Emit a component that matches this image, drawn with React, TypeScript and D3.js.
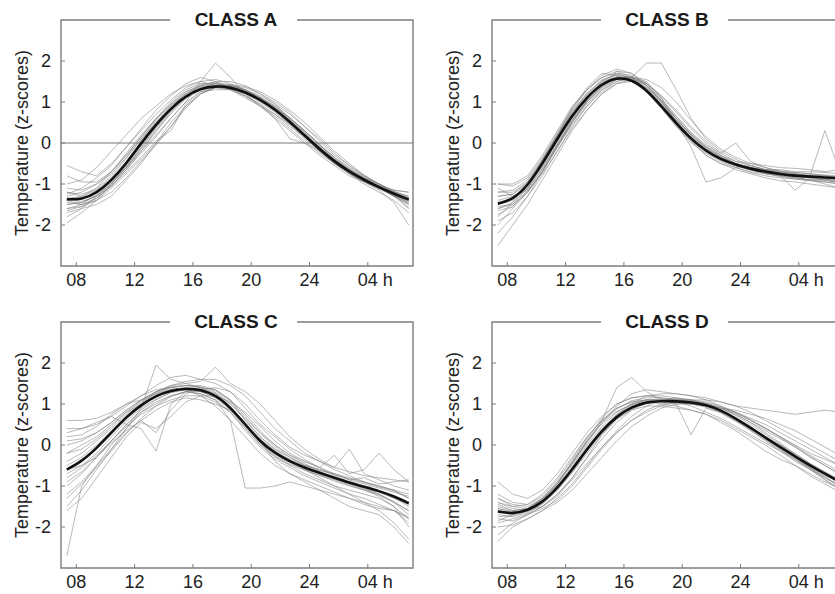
import React from 'react'
import * as d3 from 'd3'

// hour of each sample (07:20 .. 06:50 next day)
const HOURS = d3.range(24).map(i => 7.35 + i * 1.02)

const X_TICKS = [8, 12, 16, 20, 24, 28]
const X_LABELS = ['08', '12', '16', '20', '24', '04']
const Y_TICKS = [-2, -1, 0, 1, 2]

const CLASSES = ['CLASS A', 'CLASS B', 'CLASS C', 'CLASS D']

const MEAN_A = [-1.37, -1.38, -1.22, -0.92, -0.5, 0.0, 0.45, 0.85, 1.15, 1.33, 1.39, 1.36, 1.24, 1.06, 0.82, 0.52, 0.18, -0.15, -0.45, -0.7, -0.9, -1.08, -1.24, -1.38]
const MEAN_B = [-1.48, -1.38, -1.05, -0.5, 0.1, 0.68, 1.12, 1.45, 1.6, 1.55, 1.3, 0.9, 0.48, 0.1, -0.2, -0.4, -0.53, -0.63, -0.7, -0.76, -0.8, -0.82, -0.84, -0.86]
const MEAN_C = [-0.6, -0.4, -0.08, 0.3, 0.68, 0.98, 1.2, 1.33, 1.38, 1.35, 1.22, 0.92, 0.5, 0.08, -0.2, -0.4, -0.55, -0.68, -0.8, -0.92, -1.02, -1.12, -1.25, -1.42]
const MEAN_D = [-1.62, -1.68, -1.6, -1.4, -1.05, -0.6, -0.1, 0.35, 0.7, 0.93, 1.05, 1.07, 1.07, 1.04, 0.98, 0.85, 0.65, 0.42, 0.18, -0.05, -0.28, -0.5, -0.7, -0.9]

const DAYS_A = [
  [-1.0, -0.9, -0.6, -0.2, 0.2, 0.6, 0.9, 1.2, 1.4, 1.5, 1.4, 1.3, 1.1, 0.9, 0.6, 0.3, 0.0, -0.3, -0.55, -0.8, -0.95, -1.1, -1.2, -1.3],
  [-1.7, -1.6, -1.5, -1.3, -0.9, -0.5, 0.0, 0.5, 0.9, 1.2, 1.35, 1.4, 1.35, 1.2, 1.0, 0.75, 0.4, 0.05, -0.3, -0.55, -0.8, -1.0, -1.2, -1.5],
  [-1.2, -1.3, -1.1, -0.7, -0.3, 0.15, 0.6, 1.0, 1.3, 1.45, 1.45, 1.35, 1.2, 1.0, 0.75, 0.45, 0.1, -0.2, -0.5, -0.75, -0.95, -1.1, -1.3, -1.45],
  [-1.5, -1.45, -1.3, -1.0, -0.6, -0.2, 0.2, 0.6, 1.0, 1.5, 1.95, 1.6, 1.2, 0.9, 0.7, 0.45, 0.2, -0.1, -0.4, -0.65, -0.85, -1.0, -1.15, -1.2],
  [-1.95, -1.7, -1.4, -1.0, -0.55, -0.05, 0.4, 0.8, 1.1, 1.3, 1.4, 1.4, 1.3, 1.1, 0.9, 0.6, 0.3, -0.05, -0.4, -0.65, -0.9, -1.1, -1.3, -1.6],
  [-1.4, -1.5, -1.4, -1.1, -0.75, -0.4, 0.0, 0.4, 0.9, 1.2, 1.35, 1.3, 1.15, 0.95, 0.6, 0.1, 0.0, -0.2, -0.45, -0.7, -0.92, -1.1, -1.3, -1.5],
  [-0.55, -0.7, -0.8, -0.5, -0.1, 0.3, 0.7, 1.05, 1.35, 1.5, 1.55, 1.45, 1.3, 1.1, 0.85, 0.55, 0.2, -0.1, -0.4, -0.65, -0.85, -1.05, -1.2, -1.35],
  [-1.6, -1.5, -1.25, -0.95, -0.6, -0.15, 0.3, 0.75, 1.1, 1.35, 1.45, 1.4, 1.3, 1.15, 0.95, 0.7, 0.4, 0.1, -0.25, -0.55, -0.8, -1.0, -1.2, -1.4],
  [-1.3, -1.2, -1.0, -0.75, -0.35, 0.1, 0.5, 0.85, 1.2, 1.4, 1.5, 1.5, 1.4, 1.2, 0.95, 0.6, 0.25, -0.1, -0.45, -0.75, -1.0, -1.2, -1.4, -1.7],
  [-1.8, -1.6, -1.3, -1.05, -0.7, -0.35, 0.05, 0.3, 0.95, 1.25, 1.3, 1.3, 1.15, 0.95, 0.7, 0.4, 0.15, -0.2, -0.5, -0.75, -0.95, -1.15, -1.45, -2.0],
  [-1.1, -1.15, -1.0, -0.7, -0.25, 0.2, 0.6, 0.95, 1.25, 1.4, 1.45, 1.38, 1.25, 1.05, 0.8, 0.5, 0.2, -0.15, -0.45, -0.7, -0.88, -1.05, -1.15, -1.2],
  [-1.45, -1.5, -1.35, -1.05, -0.65, -0.25, 0.15, 0.6, 1.0, 1.25, 1.35, 1.32, 1.2, 1.05, 0.85, 0.6, 0.3, -0.05, -0.35, -0.6, -0.82, -1.0, -1.18, -1.32],
  [-1.25, -1.1, -0.85, -0.55, -0.1, 0.35, 0.8, 1.15, 1.45, 1.6, 1.5, 1.35, 1.15, 0.9, 0.65, 0.35, 0.05, -0.25, -0.5, -0.72, -0.9, -1.05, -1.25, -1.45],
  [-1.6, -1.55, -1.4, -1.2, -0.85, -0.45, -0.05, 0.4, 0.85, 1.2, 1.38, 1.42, 1.38, 1.25, 1.05, 0.8, 0.5, 0.15, -0.2, -0.5, -0.78, -1.0, -1.2, -1.35],
  [-1.35, -1.3, -1.15, -0.85, -0.45, 0.05, 0.5, 0.9, 1.2, 1.38, 1.42, 1.38, 1.26, 1.08, 0.85, 0.55, 0.22, -0.12, -0.42, -0.68, -0.9, -1.08, -1.25, -1.4],
  [-1.5, -1.45, -1.28, -0.98, -0.58, -0.1, 0.38, 0.8, 1.12, 1.3, 1.38, 1.36, 1.25, 1.1, 0.88, 0.6, 0.28, -0.05, -0.38, -0.65, -0.88, -1.05, -1.22, -1.35],
  [-1.2, -1.25, -1.12, -0.8, -0.38, 0.1, 0.55, 0.92, 1.2, 1.36, 1.4, 1.35, 1.22, 1.02, 0.78, 0.48, 0.14, -0.2, -0.5, -0.74, -0.94, -1.12, -1.28, -1.42],
  [-1.65, -1.55, -1.35, -1.05, -0.65, -0.2, 0.28, 0.72, 1.08, 1.3, 1.4, 1.4, 1.3, 1.12, 0.9, 0.62, 0.3, -0.02, -0.35, -0.62, -0.85, -1.02, -1.18, -1.3],
  [-0.8, -0.95, -0.95, -0.7, -0.3, 0.15, 0.58, 0.95, 1.25, 1.42, 1.48, 1.42, 1.28, 1.08, 0.82, 0.5, 0.15, -0.18, -0.48, -0.72, -0.92, -1.1, -1.28, -1.5],
  [-1.4, -1.42, -1.3, -1.0, -0.6, -0.12, 0.35, 0.78, 1.12, 1.32, 1.4, 1.38, 1.28, 1.1, 0.86, 0.56, 0.24, -0.1, -0.42, -0.68, -0.9, -1.08, -1.26, -1.58],
]

const DAYS_B = [
  [-1.0, -1.0, -0.8, -0.3, 0.3, 0.9, 1.3, 1.6, 1.7, 1.55, 1.25, 0.85, 0.45, 0.1, -0.15, -0.35, -0.5, -0.6, -0.65, -0.7, -0.72, -0.75, -0.78, -0.8],
  [-2.5, -2.0, -1.5, -0.9, -0.3, 0.3, 0.8, 1.2, 1.45, 1.5, 1.35, 1.0, 0.6, 0.2, -0.1, -0.35, -0.5, -0.6, -0.7, -0.8, -0.85, -0.9, -1.0, -1.1],
  [-1.2, -1.2, -0.95, -0.45, 0.15, 0.75, 1.2, 1.55, 1.65, 1.6, 1.95, 1.95, 1.3, 0.6, 0.1, -0.2, -0.4, -0.55, -0.65, -0.7, -0.75, -0.8, -0.8, -0.85],
  [-2.0, -1.6, -1.2, -0.7, -0.1, 0.5, 0.95, 1.3, 1.5, 1.6, 1.5, 1.1, 0.5, -0.1, -0.95, -0.85, -0.6, -0.55, -0.65, -0.75, -0.85, -0.9, -0.95, -1.0],
  [-1.6, -1.5, -1.1, -0.55, 0.05, 0.6, 1.05, 1.4, 1.6, 1.6, 1.4, 1.05, 0.65, 0.25, -0.05, -0.25, 0.0, -0.45, -0.6, -0.7, -0.75, -0.8, 0.3, -0.7],
  [-1.3, -1.25, -1.0, -0.6, -0.05, 0.5, 1.0, 1.35, 1.75, 1.7, 1.45, 1.05, 0.6, 0.2, -0.15, -0.4, -0.55, -0.65, -0.75, -0.8, -1.15, -0.85, -0.9, -0.95],
  [-1.8, -1.45, -1.0, -0.45, 0.2, 0.8, 1.3, 1.65, 1.8, 1.7, 1.4, 1.0, 0.55, 0.15, -0.15, -0.35, -0.5, -0.6, -0.65, -0.65, -0.7, -0.7, -0.72, -0.75],
  [-1.1, -1.3, -1.15, -0.75, -0.2, 0.35, 0.8, 1.2, 1.45, 1.55, 1.45, 1.15, 0.75, 0.35, 0.0, -0.3, -0.5, -0.65, -0.75, -0.82, -0.88, -0.92, -0.95, -1.0],
  [-2.2, -1.8, -1.3, -0.7, -0.05, 0.55, 1.0, 1.35, 1.55, 1.5, 1.3, 0.95, 0.55, 0.2, -0.1, -0.3, -0.45, -0.55, -0.65, -0.72, -0.78, -0.82, -0.85, -0.9],
  [-1.4, -1.3, -1.1, -0.65, -0.1, 0.5, 1.05, 1.5, 1.7, 1.65, 1.4, 1.0, 0.55, 0.05, -0.3, -0.5, -0.6, -0.7, -0.75, -0.8, -0.85, -0.9, -0.88, -0.92],
  [-1.65, -1.55, -1.2, -0.7, -0.1, 0.45, 0.9, 1.25, 1.5, 1.6, 1.55, 1.35, 1.0, 0.55, 0.15, -0.15, -0.35, -0.5, -0.6, -0.68, -0.72, -0.75, -0.8, -0.85],
  [-1.0, -1.05, -0.85, -0.35, 0.25, 0.85, 1.3, 1.6, 1.75, 1.6, 1.3, 0.85, 0.4, 0.0, -0.25, -0.45, -0.6, -0.72, -0.8, -0.85, -0.88, -0.9, -0.92, -0.95],
  [-1.9, -1.7, -1.3, -0.8, -0.2, 0.4, 0.9, 1.3, 1.55, 1.6, 1.45, 1.15, 0.8, 0.4, 0.05, -0.25, -0.45, -0.5, -0.55, -0.6, -0.62, -0.65, -0.7, -0.65],
  [-1.5, -1.4, -1.0, -0.4, 0.2, 0.85, 1.35, 1.7, 1.65, 1.5, 1.25, 0.9, 0.45, 0.05, -0.3, -0.5, -0.65, -0.75, -0.85, -0.92, -0.95, -1.0, -1.05, -1.1],
  [-1.45, -1.35, -1.02, -0.48, 0.12, 0.7, 1.15, 1.47, 1.6, 1.55, 1.32, 0.92, 0.5, 0.12, -0.18, -0.4, -0.52, -0.62, -0.7, -0.76, -0.8, -0.83, -0.85, -0.88],
  [-1.6, -1.45, -1.1, -0.55, 0.05, 0.62, 1.08, 1.42, 1.62, 1.58, 1.35, 0.95, 0.52, 0.12, -0.2, -0.42, -0.56, -0.66, -0.72, -0.78, -0.82, -0.85, -0.88, -0.95],
  [-1.3, -1.25, -0.95, -0.42, 0.18, 0.75, 1.18, 1.5, 1.62, 1.52, 1.25, 0.85, 0.42, 0.05, -0.22, -0.42, -0.55, -0.65, -0.72, -0.78, -0.82, -0.8, -0.82, -0.84],
  [-1.75, -1.55, -1.15, -0.62, 0.0, 0.58, 1.02, 1.38, 1.58, 1.58, 1.4, 1.02, 0.6, 0.2, -0.12, -0.36, -0.5, -0.6, -0.68, -0.74, -0.78, -0.8, -0.84, -0.88],
  [-1.2, -1.15, -0.9, -0.4, 0.2, 0.78, 1.22, 1.52, 1.68, 1.6, 1.32, 0.9, 0.45, 0.08, -0.2, -0.4, -0.55, -0.62, -0.68, -0.72, -0.76, -0.78, -0.8, -0.82],
  [-1.55, -1.5, -1.2, -0.68, -0.05, 0.55, 1.0, 1.38, 1.58, 1.62, 1.45, 1.1, 0.66, 0.25, -0.08, -0.32, -0.5, -0.62, -0.7, -0.75, -0.8, -0.84, -0.9, -0.98],
]

const DAYS_C = [
  [0.6, 0.6, 0.65, 0.8, 1.0, 1.1, 1.3, 1.45, 1.55, 1.6, 1.6, 1.45, 1.2, 0.8, 0.4, 0.1, -0.2, -0.4, -0.6, -0.75, -0.9, -1.0, -1.1, -1.2],
  [-2.7, -1.0, -0.5, 0.0, 0.4, 0.8, 1.0, 1.2, 1.3, 1.25, 1.1, 0.8, 0.4, 0.0, -0.3, -0.5, -0.7, -0.85, -1.0, -1.1, -1.2, -1.3, -1.5, -1.8],
  [0.3, 0.4, 0.5, 0.7, 0.5, 0.4, -0.15, 1.0, 1.3, 1.4, 1.35, 1.1, 0.6, 0.2, -0.1, -0.3, -0.5, -0.6, -0.7, -0.8, -0.9, -1.0, -1.1, -1.3],
  [-1.5, -1.1, -0.6, -0.1, 0.4, 0.9, 1.95, 1.6, 1.5, 1.4, 1.2, 0.9, 0.5, 0.1, -0.2, -0.4, -0.6, -0.8, -1.0, -1.2, -1.4, -1.6, -1.9, -2.3],
  [-0.2, 0.0, 0.2, 0.5, 0.8, 1.0, 1.3, 1.45, 1.5, 1.55, 1.9, 1.5, 1.3, 1.0, 0.6, 0.2, -0.1, -0.35, -0.55, -0.1, -0.7, -0.85, -1.0, -1.1],
  [-1.0, -0.7, -0.3, 0.1, 0.5, 0.8, 1.05, 1.2, 1.3, 1.25, 1.1, 0.6, -1.05, -1.05, -1.0, -0.9, -1.0, -1.1, -1.2, -1.3, -1.4, -1.5, -1.6, -1.9],
  [0.0, 0.1, 0.3, 0.55, 0.85, 1.1, 1.25, 1.35, 1.4, 1.35, 1.25, 1.0, 0.65, 0.3, 0.0, -0.25, -0.4, -0.55, -0.25, -0.7, -0.6, -0.2, -0.6, -0.9],
  [-0.8, -0.55, -0.25, 0.1, 0.45, 0.75, 0.95, 1.1, 1.2, 1.2, 1.05, 0.8, 0.35, -0.05, -0.35, -0.55, -0.75, -0.9, -1.05, -1.2, -1.3, -1.45, -1.6, -1.8],
  [0.4, 0.4, 0.55, 0.7, 0.95, 1.2, 1.45, 1.65, 1.7, 1.6, 1.5, 1.3, 1.0, 0.6, 0.25, -0.05, -0.25, -0.4, -0.55, -0.65, -0.75, -0.8, -0.85, -0.9],
  [-1.2, -0.9, -0.5, -0.1, 0.3, 0.6, 0.85, 1.05, 1.15, 1.1, 1.0, 0.85, 0.5, 0.1, -0.4, -0.7, -0.9, -1.1, -1.3, -1.5, -1.6, -1.7, -2.0, -2.4],
  [-0.4, -0.2, 0.1, 0.4, 0.75, 1.05, 1.25, 1.4, 1.45, 1.45, 1.35, 1.1, 0.75, 0.35, 0.0, -0.25, -0.45, -0.65, -0.8, -0.95, -1.05, -1.15, -1.3, -1.45],
  [-0.6, -0.5, -0.3, 0.05, 0.35, 0.6, 0.3, 0.85, 1.25, 1.35, 1.4, 1.3, 0.9, 0.5, 0.2, -0.1, -0.35, -0.55, -0.75, -0.9, -1.05, -1.2, -1.4, -1.6],
  [0.2, 0.25, 0.45, 0.75, 1.0, 1.2, 1.35, 1.4, 1.35, 1.2, 0.95, 0.6, 0.2, -0.2, -0.5, -0.7, -0.85, -1.0, -1.15, -1.3, -1.45, -1.55, -1.6, -1.75],
  [-1.6, -1.3, -0.8, -0.3, 0.2, 0.55, 0.4, 0.7, 1.05, 1.2, 1.2, 1.05, 0.8, 0.45, 0.1, -0.2, -0.4, -0.55, -0.7, -0.85, -0.8, -0.95, -0.9, -0.85],
  [-0.5, -0.3, 0.0, 0.35, 0.72, 1.0, 1.22, 1.35, 1.4, 1.38, 1.25, 0.95, 0.52, 0.1, -0.2, -0.42, -0.58, -0.72, -0.84, -0.95, -1.05, -1.15, -1.28, -1.5],
  [-0.9, -0.65, -0.3, 0.1, 0.5, 0.85, 1.1, 1.28, 1.35, 1.3, 1.15, 0.85, 0.42, 0.02, -0.28, -0.48, -0.62, -0.75, -0.88, -1.0, -1.1, -1.22, -1.4, -1.7],
  [-0.2, -0.1, 0.15, 0.45, 0.8, 1.08, 1.28, 1.4, 1.45, 1.42, 1.32, 1.08, 0.7, 0.28, -0.05, -0.3, -0.48, -0.6, -0.72, -0.85, -0.95, -1.05, -1.15, -1.25],
  [-1.3, -0.95, -0.55, -0.15, 0.28, 0.65, 0.95, 1.18, 1.3, 1.3, 1.18, 0.92, 0.55, 0.15, -0.15, -0.38, -0.55, -0.7, -0.82, -0.95, -1.08, -1.2, -1.38, -1.6],
  [0.1, 0.15, 0.3, 0.55, 0.85, 1.1, 1.3, 1.42, 1.45, 1.4, 1.28, 1.02, 0.62, 0.2, -0.12, -0.35, -0.5, -0.62, -0.72, -0.82, -0.92, -1.02, -1.12, -1.3],
  [-0.7, -0.5, -0.2, 0.2, 0.58, 0.9, 1.12, 1.28, 1.35, 1.32, 1.2, 0.9, 0.48, 0.05, -0.25, -0.45, -0.6, -0.74, -0.85, -0.98, -1.1, -1.25, -1.5, -2.0],
]

const DAYS_D = [
  [-0.9, -1.2, -1.3, -1.1, -0.7, -0.2, 0.3, 0.7, 1.0, 1.15, 1.2, 1.15, 1.1, 1.05, 1.0, 0.9, 0.8, 0.65, 0.5, 0.3, 0.1, -0.1, -0.3, -0.5],
  [-2.35, -2.0, -1.8, -1.6, -1.4, -1.1, -0.7, -0.3, 0.1, 0.45, 0.7, 0.9, 1.0, 1.05, 1.0, 0.9, 0.75, 0.55, 0.3, 0.05, -0.25, -0.55, -0.85, -1.1],
  [-1.4, -1.5, -1.45, -1.2, -0.8, -0.3, 0.2, 0.6, 1.4, 1.65, 1.3, 1.1, 1.0, 0.25, 0.9, 0.8, 0.6, 0.4, 0.2, 0.0, -0.2, -0.45, -0.7, -0.9],
  [-1.8, -1.85, -1.7, -1.5, -1.2, -0.85, -0.45, -0.05, 0.3, 0.6, 0.8, 0.95, 1.05, 1.1, 1.1, 1.05, 0.95, 0.9, 0.85, 0.8, 0.75, 0.8, 0.85, 0.8],
  [-1.3, -1.5, -1.55, -1.35, -0.95, -0.4, 0.15, 0.65, 1.0, 1.15, 1.2, 1.2, 1.15, 1.1, 1.0, 0.85, 0.65, 0.4, 0.15, -0.1, -0.35, -0.6, -0.85, -1.05],
  [-2.2, -1.9, -1.7, -1.55, -1.35, -1.0, -0.55, -0.1, 0.3, 0.6, 0.85, 1.0, 1.05, 1.0, 0.95, 0.8, 0.6, 0.35, 0.1, -0.15, -0.4, -0.6, -0.8, -1.0],
  [-1.5, -1.6, -1.55, -1.3, -0.9, -0.45, 0.05, 0.55, 0.95, 1.25, 1.35, 1.3, 1.25, 1.2, 1.1, 0.95, 0.8, 0.6, 0.4, 0.2, 0.0, -0.2, -0.35, -0.5],
  [-1.7, -1.75, -1.65, -1.45, -1.1, -0.65, -0.15, 0.3, 0.65, 0.85, 0.95, 0.95, 0.9, 0.85, 0.75, 0.6, 0.4, 0.2, 0.0, -0.25, -0.5, -0.75, -0.95, -1.15],
  [-1.2, -1.4, -1.45, -1.25, -0.85, -0.35, 0.2, 0.6, 0.9, 1.05, 1.1, 1.1, 1.05, 1.0, 0.95, 0.9, 0.85, 0.75, 0.65, 0.5, 0.35, 0.15, -0.05, -0.25],
  [-2.0, -1.95, -1.8, -1.6, -1.3, -0.95, -0.5, -0.05, 0.35, 0.7, 0.95, 1.1, 1.15, 1.1, 1.0, 0.85, 0.65, 0.45, 0.2, -0.05, -0.3, -0.55, -0.75, -0.9],
  [-1.55, -1.65, -1.6, -1.4, -1.0, -0.5, 0.0, 0.45, 0.8, 1.0, 1.1, 1.1, 1.05, 0.95, 0.8, 0.65, 0.45, 0.25, 0.05, -0.15, -0.35, -0.55, -0.7, -0.85],
  [-1.85, -1.7, -1.55, -1.3, -1.0, -0.6, -0.1, 0.35, 0.75, 1.0, 1.2, 1.25, 1.25, 1.2, 1.15, 1.05, 0.95, 0.8, 0.6, 0.4, 0.2, 0.0, -0.2, -0.4],
  [-1.4, -1.55, -1.6, -1.5, -1.25, -0.8, -0.3, 0.25, 0.65, 0.95, 1.05, 1.0, 0.95, 0.85, 0.75, 0.55, 0.35, 0.1, -0.15, -0.35, -0.5, -0.7, -0.9, -1.05],
  [-1.65, -1.7, -1.6, -1.35, -0.95, -0.45, 0.1, 0.6, 0.9, 1.05, 1.1, 1.05, 1.0, 1.0, 0.95, 0.9, 0.75, 0.55, 0.35, 0.15, -0.05, -0.3, -0.5, -0.7],
  [-1.6, -1.68, -1.6, -1.38, -1.02, -0.55, -0.05, 0.4, 0.72, 0.95, 1.05, 1.08, 1.08, 1.05, 0.98, 0.85, 0.66, 0.44, 0.2, -0.05, -0.3, -0.52, -0.72, -0.92],
  [-1.75, -1.72, -1.62, -1.42, -1.1, -0.68, -0.2, 0.25, 0.62, 0.88, 1.02, 1.08, 1.1, 1.08, 1.02, 0.9, 0.72, 0.5, 0.26, 0.02, -0.22, -0.45, -0.65, -0.85],
  [-1.45, -1.6, -1.55, -1.32, -0.95, -0.45, 0.08, 0.52, 0.82, 1.0, 1.08, 1.06, 1.04, 1.0, 0.92, 0.78, 0.58, 0.36, 0.12, -0.12, -0.36, -0.58, -0.8, -1.0],
  [-1.9, -1.8, -1.68, -1.5, -1.2, -0.8, -0.32, 0.15, 0.55, 0.85, 1.02, 1.1, 1.12, 1.1, 1.05, 0.95, 0.8, 0.62, 0.42, 0.2, -0.02, -0.25, -0.45, -0.65],
  [-1.55, -1.62, -1.58, -1.4, -1.05, -0.58, -0.08, 0.38, 0.75, 0.98, 1.1, 1.12, 1.1, 1.06, 0.98, 0.84, 0.64, 0.42, 0.18, -0.08, -0.32, -0.56, -0.78, -0.98],
  [-1.3, -1.45, -1.5, -1.3, -0.92, -0.42, 0.1, 0.55, 0.88, 1.08, 1.15, 1.15, 1.12, 1.08, 1.02, 0.92, 0.78, 0.6, 0.4, 0.18, -0.05, -0.28, -0.5, -0.72],
]

const MEANS = [MEAN_A, MEAN_B, MEAN_C, MEAN_D]
const DAYS = [DAYS_A, DAYS_B, DAYS_C, DAYS_D]

const W = 835
const H = 594
const panelW = 352
const panelH = 246
const lefts = [61, 492]
const tops = [20, 322]
const frameColor = '#7d7d7d'
const font = '"Liberation Sans", Arial, Helvetica, sans-serif'

const Panel = ({ idx }: { idx: number }) => {
  const left = lefts[idx % 2]
  const top = tops[Math.floor(idx / 2)]
  const x = d3.scaleLinear().domain([6.95, 31.1]).range([left, left + panelW])
  const y = d3.scaleLinear().domain([-3, 3]).range([top + panelH, top])
  const grayLine = d3.line<number>().x((_, i) => x(HOURS[i])).y(d => y(d))
  const meanLine = d3.line<number>().x((_, i) => x(HOURS[i])).y(d => y(d)).curve(d3.curveBasis)
  const cx = left + panelW / 2
  const gapL = cx - 67
  const gapR = cx + 60
  const bottom = top + panelH
  const right = left + panelW

  return (
    <g>
      {DAYS[idx].map((d, i) => (
        <path key={i} d={grayLine(d) || ''} fill="none" stroke="#7f7f7f" strokeWidth={1} strokeOpacity={0.55} />
      ))}
      {idx === 0 && (
        <line x1={left} x2={right} y1={y(0)} y2={y(0)} stroke="#777" strokeWidth={1} />
      )}
      <path d={meanLine(MEANS[idx]) || ''} fill="none" stroke="#111" strokeWidth={2.6} />

      {/* frame with a gap for the title */}
      <path
        d={`M${gapL},${top}H${left}V${bottom}H${right}V${top}H${gapR}`}
        fill="none"
        stroke={frameColor}
        strokeWidth={1.4}
      />
      <text x={cx - 1} y={top + 6} textAnchor="middle" fontFamily={font} fontWeight="bold" fontSize={19} fill="#1a1a1a">
        {CLASSES[idx]}
      </text>

      {Y_TICKS.map(t => (
        <g key={t}>
          <line x1={left} x2={left + 4} y1={y(t)} y2={y(t)} stroke={frameColor} strokeWidth={1} />
          <text x={left - 10} y={y(t)} dy="0.36em" textAnchor="end" fontFamily={font} fontSize={18} fill="#222">
            {t < 0 ? '-' + Math.abs(t) : t}
          </text>
        </g>
      ))}
      {X_TICKS.map((t, i) => (
        <g key={t}>
          <line x1={x(t)} x2={x(t)} y1={bottom} y2={bottom - 4} stroke={frameColor} strokeWidth={1} />
          {i < X_TICKS.length - 1 ? (
            <text x={x(t)} y={bottom + 20} textAnchor="middle" fontFamily={font} fontSize={18} fill="#222">
              {X_LABELS[i]}
            </text>
          ) : (
            <text x={x(t) - 10} y={bottom + 20} textAnchor="start" fontFamily={font} fontSize={18} fill="#222">
              {X_LABELS[i] + ' h'}
            </text>
          )}
        </g>
      ))}
      <text
        transform={`translate(${left - 33},${top + panelH / 2}) rotate(-90)`}
        textAnchor="middle"
        fontFamily={font}
        fontSize={18}
        fill="#222"
      >
        Temperature (z-scores)
      </text>
    </g>
  )
}

const App = () => {
  return (
    <svg width={W} height={H} style={{ position: 'absolute', left: 0, top: 0, background: '#fff' }}>
      {CLASSES.map((c, i) => <Panel key={c} idx={i} />)}
    </svg>
  )
}

export default App
